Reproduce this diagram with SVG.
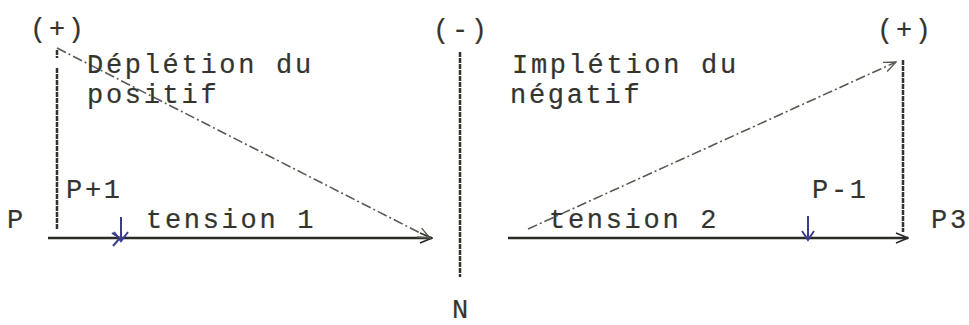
<svg xmlns="http://www.w3.org/2000/svg" width="969" height="325" viewBox="0 0 969 325">
<style>
.t{font-family:"Liberation Mono","DejaVu Sans Mono",monospace;font-size:27px;fill:#34342f;stroke:#34342f;stroke-width:0.2;letter-spacing:2.7px}
.ax{stroke:#2a2a26;stroke-width:2.5;fill:none}
.dash{stroke:#5a5a52;stroke-width:1.6;fill:none;stroke-dasharray:10 3 2 3}
.vd{stroke:#33332e;stroke-width:2.5;fill:none;stroke-dasharray:5 1}
.blue{stroke:#3c3c8c;stroke-width:2;fill:none}
</style>
<defs>
<marker id="ah" markerWidth="14" markerHeight="12" refX="13" refY="6" orient="auto" markerUnits="userSpaceOnUse">
<path d="M1,1 L13,6 L1,11" fill="none" stroke="#2a2a26" stroke-width="1.6"/>
</marker>
<marker id="ahd" markerWidth="14" markerHeight="12" refX="13" refY="6" orient="auto" markerUnits="userSpaceOnUse">
<path d="M1,1 L13,6 L1,11" fill="none" stroke="#5a5a52" stroke-width="1.4"/>
</marker>
</defs>
<g id="connectors">
<line class="vd" x1="57" y1="68" x2="57" y2="230"/>
<line class="vd" x1="57" y1="50" x2="57" y2="58"/>
<line class="ax" x1="48" y1="238" x2="432" y2="238" marker-end="url(#ah)"/>
<line class="dash" x1="57" y1="48" x2="430" y2="238" marker-end="url(#ahd)"/>
<line class="vd" x1="460" y1="52" x2="460" y2="277"/>
<line class="ax" x1="508" y1="238" x2="908" y2="238" marker-end="url(#ah)"/>
<line class="dash" x1="528" y1="229" x2="896" y2="62" marker-end="url(#ahd)"/>
<line class="vd" x1="903" y1="60" x2="903" y2="232" stroke-dasharray="6 6"/>
<g id="blue1">
<line class="blue" x1="121" y1="217" x2="121" y2="240"/>
<path class="blue" d="M114,232 L121,241 L128,232"/>
<path class="blue" d="M112,233 L120,238 L113,246" stroke-width="2.5"/>
</g>
<g id="blue2">
<line class="blue" x1="808" y1="216" x2="808" y2="240"/>
<path class="blue" d="M802,231 L808,240 L814,231"/>
</g>
</g>
<g id="left-plus"><text class="t" x="30" y="37">(+)</text></g>
<g id="depletion"><text class="t" x="87" y="73">Déplétion du</text><text class="t" x="87" y="103">positif</text></g>
<g id="p-plus-1"><text class="t" x="66" y="198">P+1</text></g>
<g id="p-left"><text class="t" x="7" y="228">P</text></g>
<g id="tension1"><text class="t" x="146" y="228">tension 1</text></g>
<g id="minus"><text class="t" x="433" y="38">(-)</text></g>
<g id="n"><text class="t" x="452" y="318">N</text></g>
<g id="impletion"><text class="t" x="512" y="73">Implétion du</text><text class="t" x="510" y="103">négatif</text></g>
<g id="right-plus"><text class="t" x="877" y="38">(+)</text></g>
<g id="tension2"><text class="t" x="549" y="228">tension 2</text></g>
<g id="p-minus-1"><text class="t" x="812" y="198">P-1</text></g>
<g id="p3"><text class="t" x="931" y="228">P3</text></g>
</svg>
